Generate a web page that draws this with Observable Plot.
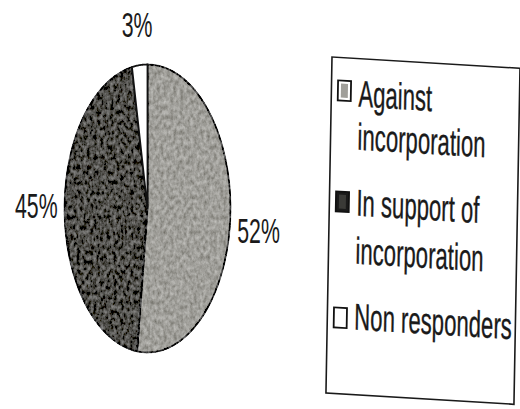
<!DOCTYPE html>
<html><head><meta charset="utf-8">
<script src="https://cdn.jsdelivr.net/npm/d3@7"></script>
<script src="https://cdn.jsdelivr.net/npm/@observablehq/plot@0.6"></script>
<style>
html,body{margin:0;padding:0;background:#fff;overflow:hidden}
#wrap{position:relative;width:520px;height:409px;overflow:hidden;background:#fff}
#wrap svg{position:absolute;left:0;top:0}
</style></head><body><div id="wrap"></div>
<script>
const categories = ["Against incorporation", "In support of incorporation", "Non responders"];
const shares = [52, 45, 3];
const pctLabels = ["52%", "45%", "3%"];
const legendLines = [["Against", "incorporation"], ["In support of", "incorporation"], ["Non responders"]];
const colors = ["#a09f9a", "#4f4e4a", "#ffffff"];

const FONT = "'Liberation Sans',Arial,sans-serif";
const NARROW = 0.82; // Arial Narrow ~ Arial squeezed horizontally

// slice geometry from the shares (clockwise from 12 o'clock)
const total = d3.sum(shares);
let acc = 0;
const slices = shares.map((v, i) => {
  const a0 = acc / total * 2 * Math.PI; acc += v;
  const a1 = acc / total * 2 * Math.PI;
  return {cat: categories[i], a0, a1, mid: (a0 + a1) / 2, label: pctLabels[i]};
});
const pts = [];
for (const s of slices) {
  pts.push({cat: s.cat, x: 0, y: 0});
  const n = Math.max(2, Math.ceil((s.a1 - s.a0) / 0.01));
  for (let k = 0; k <= n; k++) {
    const a = s.a0 + (s.a1 - s.a0) * k / n;
    pts.push({cat: s.cat, x: Math.sin(a), y: -Math.cos(a)});
  }
}

const chart = Plot.plot({
  width: 520, height: 409, margin: 0,
  x: {domain: [-1, 1], range: [64, 230], axis: null},
  y: {domain: [-1, 1], range: [64, 352], axis: null},
  color: {domain: categories, range: colors},
  style: {background: "transparent"},
  marks: [
    Plot.line(pts, {x: "x", y: "y", z: "cat", fill: "cat", stroke: "#111", strokeWidth: 1.8, curve: "linear-closed"}),
    Plot.text(slices, {x: d => Math.sin(d.mid) * 1.34, y: d => -Math.cos(d.mid) * 1.27 + (d.mid > 1 && d.mid < 2 ? 0.08 : 0) - (d.mid > 4 && d.mid < 5 ? 0.05 : 0), text: "label",
      fontSize: 26, fontFamily: FONT, fill: "#1a1a1a"})
  ]
});
document.getElementById("wrap").appendChild(chart);

// grainy scanned texture for the shaded slices
const defs = d3.select(chart).insert("defs", ":first-child");
const f = defs.append("filter").attr("id", "grain").attr("x", "-5%").attr("y", "-5%").attr("width", "110%").attr("height", "110%");
f.append("feTurbulence").attr("type", "fractalNoise").attr("baseFrequency", "0.3 0.2").attr("numOctaves", 3).attr("seed", 5).attr("result", "t");
f.append("feColorMatrix").attr("in", "t").attr("type", "matrix")
  .attr("values", "1 0 0 0 0  1 0 0 0 0  1 0 0 0 0  0 0 0 0 1").attr("result", "g");
f.append("feComposite").attr("in", "SourceGraphic").attr("in2", "g").attr("operator", "arithmetic")
  .attr("k1", 0).attr("k2", 1).attr("k3", 0.45).attr("k4", -0.225).attr("result", "mix");
f.append("feComposite").attr("in", "mix").attr("in2", "SourceGraphic").attr("operator", "in");
d3.select(chart).selectAll("g[aria-label='line'] path").each(function() {
  const fill = (this.getAttribute("fill") || "").toLowerCase();
  if (fill !== "#ffffff" && fill !== "white" && fill !== "rgb(255, 255, 255)") this.setAttribute("filter", "url(#grain)");
});

// narrow + vertically stretched lettering like the scanned original
d3.select(chart).selectAll("g[aria-label='text'] text").each(function() {
  const el = d3.select(this);
  const x = +el.attr("x") || 0, y = +el.attr("y") || 0, t = el.attr("transform") || "";
  el.attr("transform", `${t} translate(${x},${y}) scale(${NARROW},1.32) translate(${-x},${-y})`);
});

// legend (slightly skewed box like the photographed original)
const leg = d3.create("svg").attr("width", 520).attr("height", 409);
const g = leg.append("g").attr("transform", "matrix(1,0.06,-0.018,1,332,57)");
g.append("rect").attr("x", 0).attr("y", 0).attr("width", 188).attr("height", 336)
  .attr("fill", "none").attr("stroke", "#1a1a1a").attr("stroke-width", 1.6);
const swatchY = [23, 134, 250];
const baselines = [[48, 91], [157, 205], [271]];
categories.forEach((c, i) => {
  g.append("rect").attr("x", 6.5).attr("y", swatchY[i]).attr("width", 13).attr("height", 20)
    .attr("fill", i === 1 ? "#1a1a1a" : "#fff").attr("stroke", "#111").attr("stroke-width", 1.8);
  g.append("rect").attr("x", 9.5).attr("y", swatchY[i] + 3).attr("width", 7).attr("height", 14)
    .attr("fill", i === 2 ? "#fff" : (i === 1 ? "#3a3a37" : colors[i]));
  legendLines[i].forEach((line, j) => {
    const by = baselines[i][j];
    g.append("text").attr("x", 27).attr("y", by)
      .attr("transform", `translate(27,${by}) scale(${NARROW},1.38) translate(-27,${-by})`)
      .attr("font-family", FONT).attr("font-size", 27).attr("fill", "#1a1a1a")
      .attr("stroke", "#1a1a1a").attr("stroke-width", 0.25).text(line);
  });
});
document.getElementById("wrap").appendChild(leg.node());
</script></body></html>
